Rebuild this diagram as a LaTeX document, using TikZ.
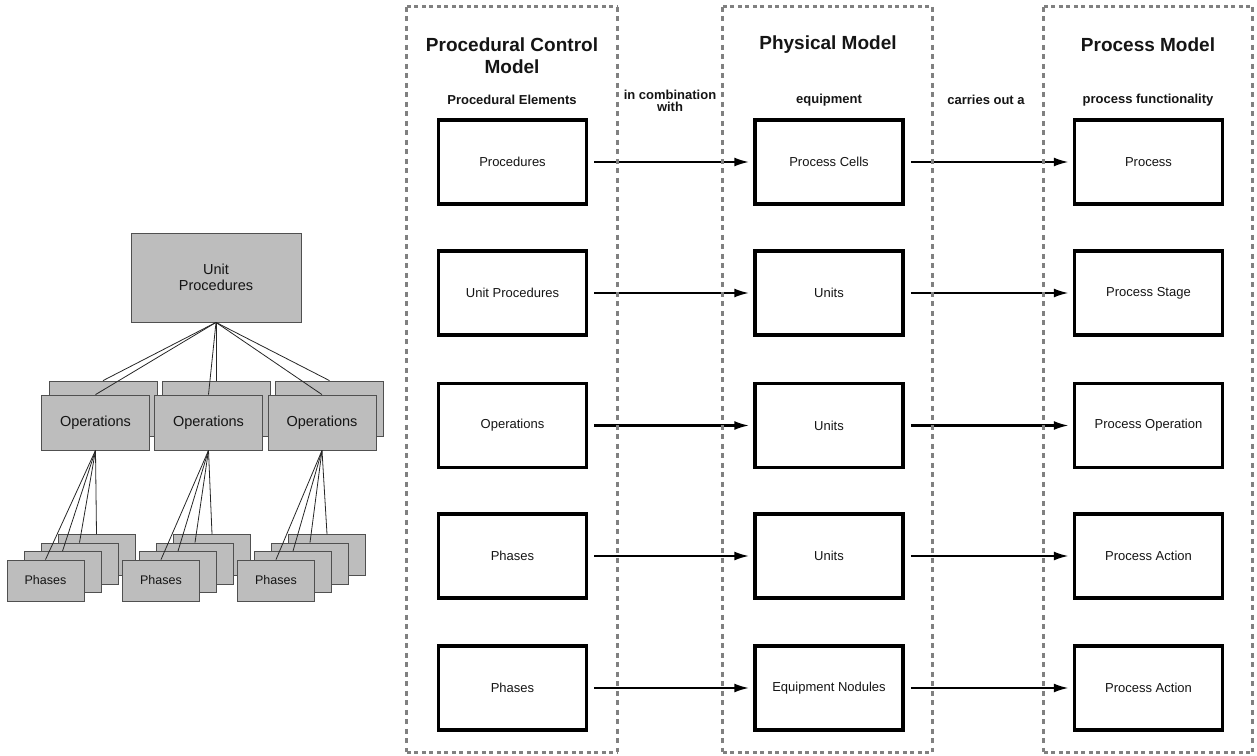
\documentclass[tikz,border=0pt]{standalone}
\usepackage{fontspec}
\setmainfont{Liberation Sans}
\usetikzlibrary{arrows.meta}
\definecolor{frame}{HTML}{808080}
\definecolor{boxfill}{HTML}{BDBDBD}
\definecolor{boxline}{HTML}{505050}
\definecolor{ink}{HTML}{151515}
\begin{document}
\begin{tikzpicture}[x=1pt,y=-1pt,
  frame/.style={minimum width=#1,minimum height=745pt,inner sep=0pt},
  hdash/.style={draw=frame,line width=3pt,dash pattern=on 4pt off 3.5pt},
  vdash/.style={draw=frame,line width=3pt,dash pattern=on 5pt off 4.5pt},
  title/.style={font=\fontsize{19}{22}\selectfont\bfseries,text=ink,align=center},
  subtitle/.style={font=\fontsize{13}{12}\selectfont\bfseries,text=ink,align=center},
  elem/.style={draw=black,line width=3.5pt,fill=white,minimum width=148pt,
    minimum height=84pt,inner sep=0pt,font=\fontsize{13}{15}\selectfont,text=ink},
  link/.style={line width=2.2pt,-{Latex[length=15pt,width=9pt]},shorten <=6pt,shorten >=4pt},
  gbox/.style={draw=boxline,line width=0.8pt,fill=boxfill,inner sep=0pt,text=ink},
  upbox/.style={gbox,minimum width=170pt,minimum height=89pt,align=center,
    font=\fontsize{14.5}{16}\selectfont},
  opbox/.style={gbox,minimum width=108pt,minimum height=55pt,font=\fontsize{14.5}{16}\selectfont},
  phbox/.style={gbox,minimum width=77pt,minimum height=41pt,font=\fontsize{12.5}{14}\selectfont},
  tie/.style={draw=black!85,line width=0.8pt}]
\useasboundingbox (0,0) rectangle (1257,755);

% ---------- left: unit procedure hierarchy ----------
\node[upbox] (up) at (216,277.5) {Unit\\Procedures};

\node[opbox] (opb1) at (103,408.5) {};
\node[opbox] (opb2) at (216,408.5) {};
\node[opbox] (opb3) at (329.5,408.5) {};
\node[opbox] (op1) at (95.5,422.5) {Operations};
\node[opbox] (op2) at (208.5,422.5) {Operations};
\node[opbox] (op3) at (322,422.5) {Operations};

\foreach \g/\fx in {1/45.5,2/161,3/276}{
  \foreach \k in {3,2,1}{
    \node[phbox] (ph\g-\k) at (\fx+17*\k,580.5-8.5*\k) {};
  }
  \node[phbox] (ph\g-0) at (\fx,580.5) {Phases};
}

\foreach \i in {1,2,3}{
  \draw[tie] (up.south) -- (opb\i.north);
  \draw[tie] (up.south) -- (op\i.north);
  \foreach \k in {0,1,2,3}{
    \draw[tie] (op\i.south) -- (ph\i-\k.north);
  }
}

% ---------- right: models ----------
\node[title] (t1) at (512,56) {Procedural Control\\Model};
\node[title] (t2) at (828,45) {Physical Model};
\node[title] (t3) at (1148,45) {Process Model};
\node[subtitle] (s1) at (512,100) {Procedural Elements};
\node[subtitle] (s2) at (829,100) {equipment};
\node[subtitle] (s3) at (1148,100) {process functionality};
\node[subtitle] (r1) at (670,101) {in combination\\with};
\node[subtitle] (r2) at (986,100) {carries out a};

\foreach \r/\y/\a/\b/\c in {
  1/162/Procedures/Process Cells/Process,
  2/293/Unit Procedures/Units/Process Stage,
  3/425.5/Operations/Units/Process Operation,
  4/556/Phases/Units/Process Action,
  5/688/Phases/Equipment Nodules/Process Action}{
  \node[elem] (a\r) at (512.5,\y) {\a};
  \node[elem] (b\r) at (829,\y) {\b};
  \node[elem] (c\r) at (1148.5,\y) {\c};
  \draw[link] (a\r) -- (b\r);
  \draw[link] (b\r) -- (c\r);
}

% dashed model frames
\node[frame=210pt] (f1) at (512,379.5) {};
\node[frame=209pt] (f2) at (827.5,379.5) {};
\node[frame=208pt] (f3) at (1148,379.5) {};
\foreach \f in {f1,f2,f3}{
  \draw[hdash] (\f.north west) -- (\f.north east);
  \draw[hdash] (\f.south west) -- (\f.south east);
  \draw[vdash] (\f.north west) -- (\f.south west);
  \draw[vdash] (\f.north east) -- (\f.south east);
}
\end{tikzpicture}
\end{document}
